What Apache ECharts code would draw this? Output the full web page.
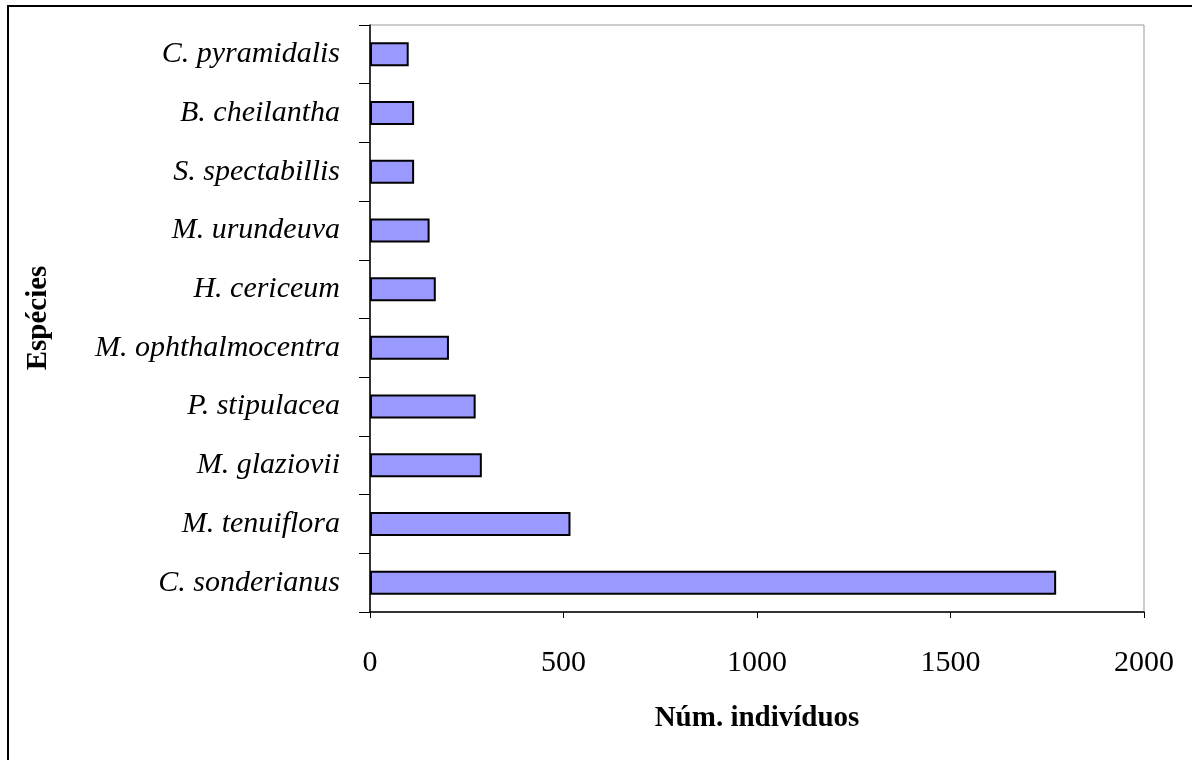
<!DOCTYPE html>
<html>
<head>
<meta charset="utf-8">
<script src="https://cdn.jsdelivr.net/npm/echarts@6/dist/echarts.min.js"></script>
<style>
  html, body { margin: 0; padding: 0; background: #fff; }
  #chart { width: 1192px; height: 760px; }
  /* outer frame, runs off the right and bottom like the scan */
  .frame { position: absolute; left: 7px; top: 5px; width: 1300px; height: 900px;
           border-left: 2px solid #000; border-top: 2px solid #000; pointer-events: none; }
</style>
</head>
<body>
<div id="chart"></div>
<div class="frame"></div>
<script>
  // species, bottom to top
  var especies = ['C. sonderianus', 'M. tenuiflora', 'M. glaziovii', 'P. stipulacea',
    'M. ophthalmocentra', 'H. cericeum', 'M. urundeuva', 'S. spectabillis',
    'B. cheilantha', 'C. pyramidalis'];
  var individuos = [1773, 518, 289, 273, 204, 170, 154, 114, 114, 100];
  var xTicks = [0, 500, 1000, 1500, 2000];

  var serif = '"Liberation Serif", "Times New Roman", serif';
  var myChart = echarts.init(document.getElementById('chart'));

  var option = {
    animation: false,
    backgroundColor: '#fff',
    grid: {
      left: 370, top: 25, right: 48, bottom: 148,
      show: true, borderColor: '#999', borderWidth: 1
    },
    xAxis: {
      type: 'value',
      min: xTicks[0],
      max: xTicks[xTicks.length - 1],
      interval: 500,
      name: 'Núm. indivíduos',
      nameLocation: 'middle',
      nameGap: 92,
      nameTextStyle: { fontFamily: serif, fontWeight: 'bold', fontSize: 29, color: '#000' },
      axisLine: { show: true, lineStyle: { color: '#000', width: 1.5 } },
      axisTick: { show: true, length: 6, lineStyle: { color: '#000' } },
      axisLabel: {
        margin: 36, fontFamily: serif, fontSize: 30, color: '#000',
        formatter: function (v) { return String(v); }
      },
      splitLine: { show: false }
    },
    yAxis: {
      type: 'category',
      data: especies,
      axisLine: { show: true, lineStyle: { color: '#000', width: 1.5 } },
      axisTick: { show: true, length: 11, alignWithLabel: false, lineStyle: { color: '#000' } },
      axisLabel: { margin: 30, fontFamily: serif, fontStyle: 'italic', fontSize: 30, color: '#000' }
    },
    graphic: [{
      type: 'text',
      x: 39,
      y: 318,
      rotation: Math.PI / 2,
      style: {
        text: 'Espécies',
        font: 'bold 29px ' + serif,
        fill: '#000',
        align: 'center',
        verticalAlign: 'middle'
      }
    }],
    series: [{
      type: 'bar',
      data: individuos,
      barWidth: 24,
      itemStyle: { color: '#9999FF', borderColor: '#000', borderWidth: 2 }
    }]
  };

  myChart.setOption(option);
</script>
</body>
</html>
